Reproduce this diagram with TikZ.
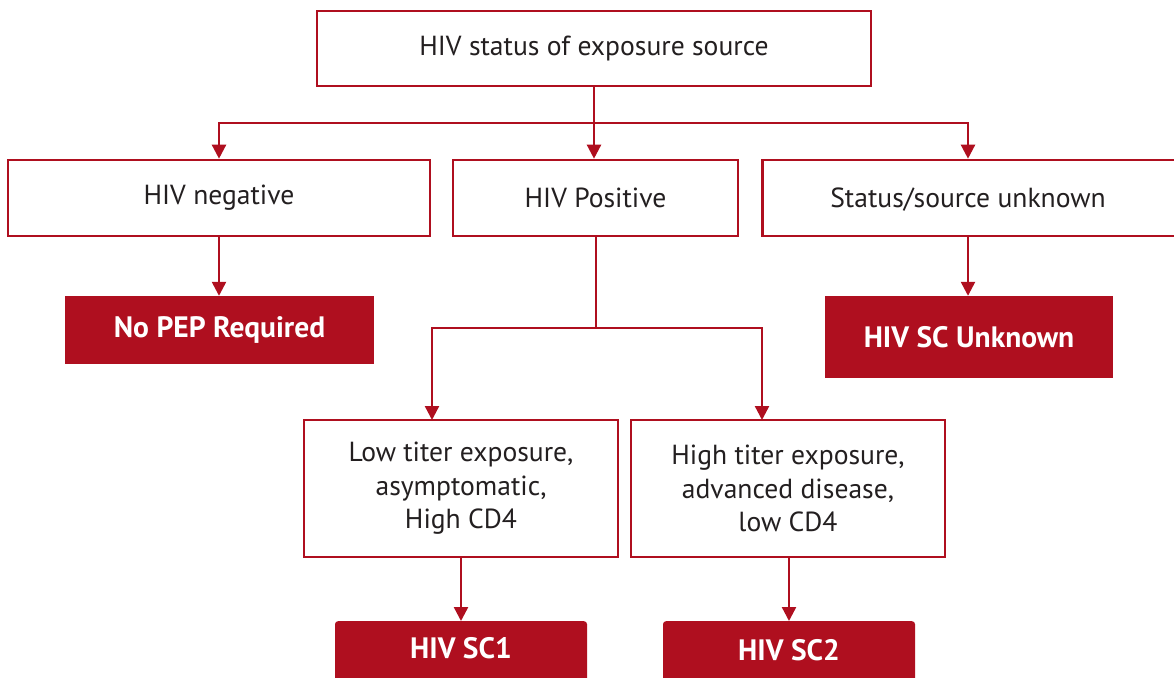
\documentclass[tikz,border=0pt]{standalone}
\usepackage{fontspec}
\setmainfont{PT Sans}
\usetikzlibrary{arrows.meta}
\definecolor{hivred}{HTML}{AF0F1F}
\definecolor{ink}{HTML}{231F20}
\begin{document}
\begin{tikzpicture}[x=1pt,y=-1pt,
  outline/.style={draw=hivred,line width=2.6pt,fill=white,text=ink,font=\fontsize{27.6}{33.5}\selectfont,align=center,inner sep=0pt},
  result/.style={fill=hivred,text=white,font=\fontsize{29.5}{34}\selectfont\bfseries,inner sep=0pt},
  link/.style={draw=hivred,line width=2.4pt},
  arrow/.style={link,-{Triangle[length=14pt,width=14pt]}}]
\useasboundingbox (0,0) rectangle (1174,677);
% outlined decision boxes
\node[outline,minimum width=554,minimum height=75] (src) at (594,48.5) {HIV status of exposure source};
\node[outline,minimum width=422,minimum height=76] (neg) at (219,198) {HIV negative};
\node[outline,minimum width=285,minimum height=76] (pos) at (595.5,198) {HIV Positive};
\node[outline,minimum width=420,minimum height=76,anchor=west] (unk) at (761,198) {};
\node[text=ink,font=\fontsize{27.6}{33.5}\selectfont] (unktxt) at (968,200) {Status/source unknown};
\node[outline,minimum width=314,minimum height=137] (low) at (461,488.5) {Low titer exposure,\\asymptomatic,\\High CD4};
\node[outline,minimum width=314,minimum height=137] (high) at (788,488.5) {High titer exposure,\\advanced disease,\\low CD4};
% filled outcome boxes
\node[result,minimum width=309,minimum height=68] (nopep) at (219.5,330) {No PEP Required};
\node[result,minimum width=288,minimum height=82] (scu) at (969,337) {HIV SC Unknown};
\node[result,rounded corners=3pt,minimum width=252,minimum height=64,anchor=north] (sc1) at (461,621) {};
\node[text=white,font=\fontsize{29.5}{34}\selectfont\bfseries] at (461,648) {HIV SC1};
\node[result,rounded corners=3pt,minimum width=252,minimum height=64,anchor=north] (sc2) at (789,621) {};
\node[text=white,font=\fontsize{29.5}{34}\selectfont\bfseries] at (789,650) {HIV SC2};
% connectors
\coordinate (split) at (594,123);
\draw[arrow] (src.south) -- (split) -- (pos.north-|split);
\draw[arrow] (split) -| (neg.north);
\draw[arrow] (split) -| (unktxt.center|-unk.north);
\draw[arrow] (neg.south) -- (nopep.north-|neg.south);
\draw[arrow] (unktxt.center|-unk.south) -- (unktxt.center|-scu.north);
\coordinate (split2) at (596,328);
\draw[link] (pos.south-|split2) -- (split2);
\draw[arrow] (split2) -| (432,420);
\draw[arrow] (split2) -| (762,420);
\draw[arrow] (low.south) -- (sc1.north);
\draw[arrow] (789,557) -- (sc2.north);
\end{tikzpicture}
\end{document}
